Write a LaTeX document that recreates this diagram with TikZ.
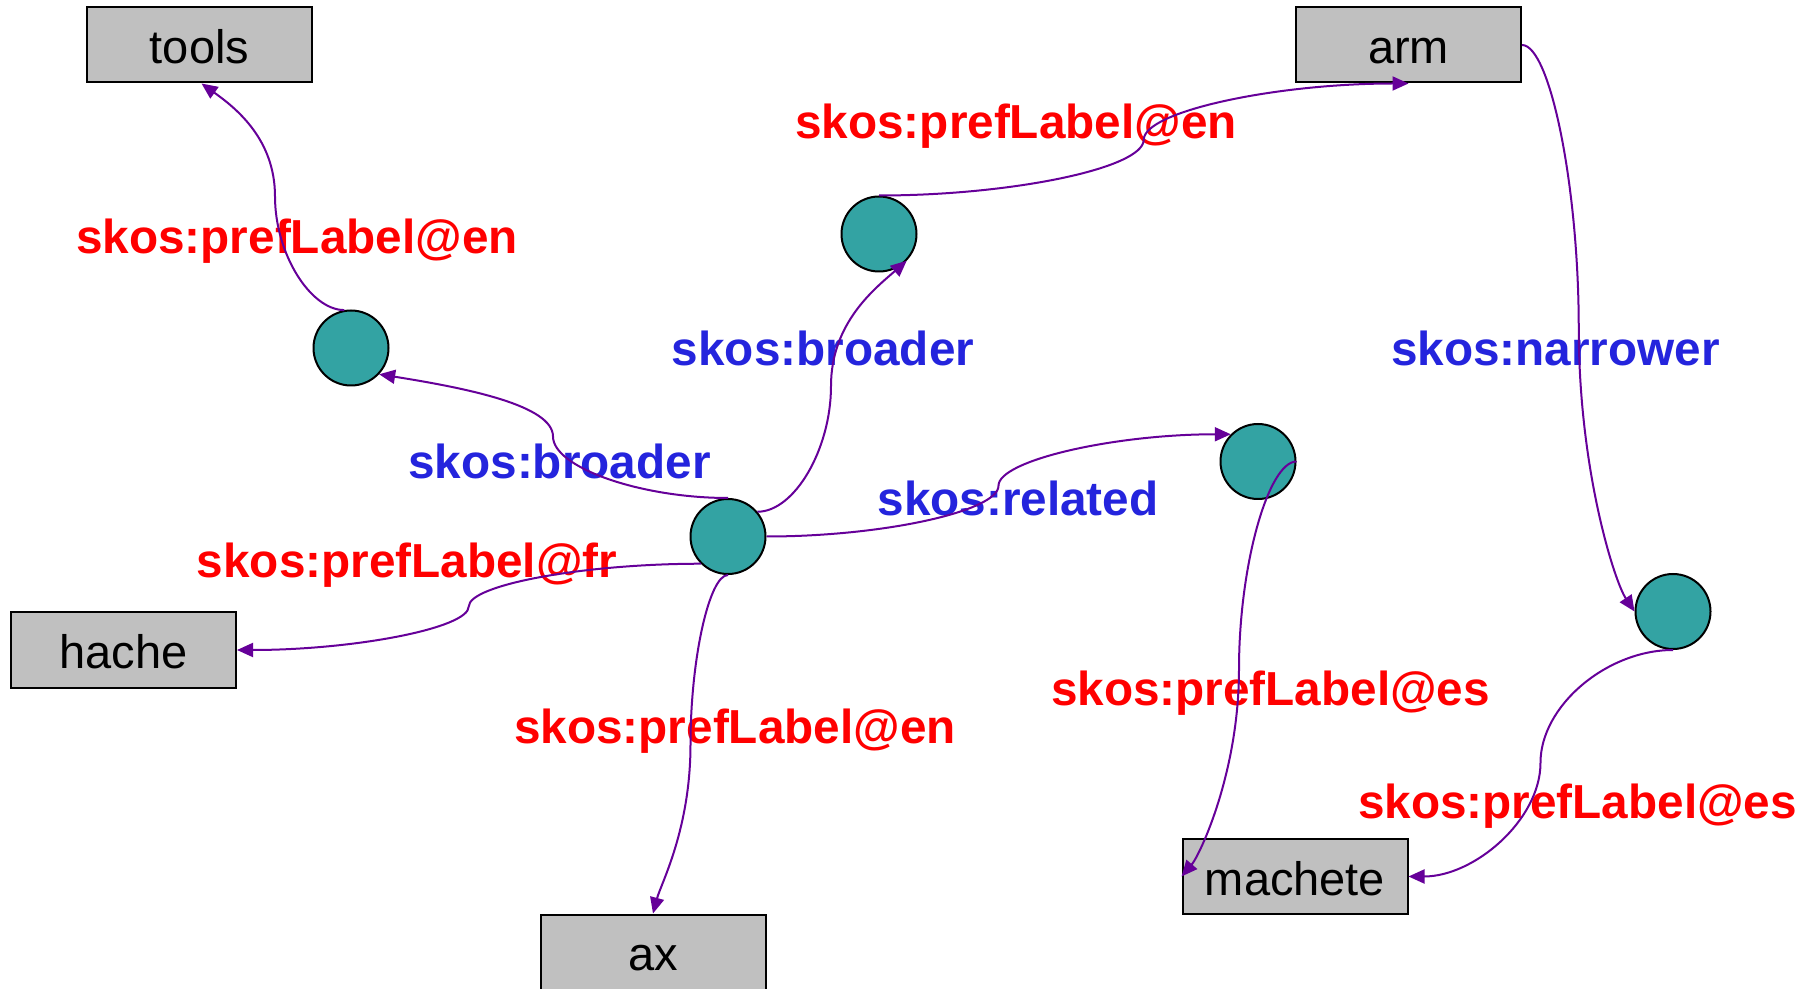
\documentclass[tikz,border=0pt]{standalone}
\usepackage{fontspec}
\setmainfont{Liberation Sans}
\usetikzlibrary{arrows.meta}
\definecolor{boxgray}{HTML}{C0C0C0}
\definecolor{conceptteal}{HTML}{33A3A3}
\definecolor{edgepurple}{HTML}{660099}
\definecolor{labred}{HTML}{FF0000}
\definecolor{labblue}{HTML}{2424DD}
\begin{document}
\begin{tikzpicture}[x=0.5pt,y=-0.5pt,
  term/.style={draw=black, line width=1pt, fill=boxgray, minimum width=112.5pt,
    minimum height=37.5pt, inner sep=0pt, font=\fontsize{23.5}{28}\selectfont,
    text height=18.5pt, text depth=0pt},
  concept/.style={circle, draw=black, line width=1pt, fill=conceptteal,
    minimum size=37.5pt, inner sep=0pt},
  rellabel/.style={font=\bfseries\fontsize{23.85}{28}\selectfont, anchor=base, inner sep=0pt},
  redlab/.style={rellabel, text=labred},
  bluelab/.style={rellabel, text=labblue},
  edge/.style={draw=edgepurple, line width=1pt, -{Triangle[length=8pt,width=7pt]}}]
\useasboundingbox (0,0) rectangle (1806,989);
\fill[white] (0,0) rectangle (1806,989);
\clip (0,0) rectangle (1806,989);

% literal nodes
\node[term] (tools) at (199.5,45) {tools};
\node[term] (arm) at (1408.5,45) {arm};
\node[term] (hache) at (123.5,650) {hache};
\node[term] (ax) at (653,952) {ax};
\node[term] (machete) at (1295,876.5) {machete};

% concept nodes
\node[concept] (cL) at (351,348) {};
\node[concept] (cT) at (879,234) {};
\node[concept] (cC) at (728,536.5) {};
\node[concept] (cR) at (1258,461.5) {};
\node[concept] (cN) at (1673,611.5) {};

% labels
\node[redlab] (l1) at (297,254) {skos:prefLabel@en};
\node[redlab] (l2) at (1016,139) {skos:prefLabel@en};
\node[bluelab] (l3) at (823,366) {skos:broader};
\node[bluelab] (l4) at (1555.5,366) {skos:narrower};
\node[bluelab] (l5) at (559.5,479) {skos:broader};
\node[bluelab] (l6) at (1018,516) {skos:related};
\node[redlab] (l7) at (407,578) {skos:prefLabel@fr};
\node[redlab] (l8) at (735,743) {skos:prefLabel@en};
\node[redlab] (l9) at (1270.5,705) {skos:prefLabel@es};
\node[redlab] (l10) at (1577.5,818) {skos:prefLabel@es};

% connector midpoints
\coordinate (m1) at (275,196.5);
\coordinate (m2) at (553,436.5);
\coordinate (m3) at (831,386);
\coordinate (m4) at (1143.75,139.75);
\coordinate (m5) at (1578.75,328.25);
\coordinate (m6) at (1540.5,762.75);
\coordinate (m7) at (1239,669);
\coordinate (m8) at (998.5,485.75);
\coordinate (m9) at (468.75,606.5);
\coordinate (m10) at (690.5,744.25);

% connectors
\draw[edge] (cL.100) .. controls +(-34,0) and +(0,57) .. (m1)
  .. controls +(0,-57) and +(35,25) .. ([xshift=1pt]tools.south);
\draw[edge] (cC.north) .. controls +(-87.5,0) and +(0,31) .. (m2)
  .. controls +(0,-31) and +(88,14) .. (cL.-43);
\draw[edge] (cC.40) .. controls +(37,0) and +(0,63) .. (m3)
  .. controls +(0,-63) and +(-32,28) .. (cT.-44);
\draw[edge] (cT.north) .. controls +(132,0) and +(0,28.5) .. (m4)
  .. controls +(0,-28.5) and +(-132,0) .. (arm.south);
\draw[edge] (arm.east) .. controls +(28,0) and +(0,-141.6) .. (m5)
  .. controls +(0,141.6) and +(-20,-30) .. (cN.west);
\draw[edge] (cN.south) .. controls +(-66,0) and +(0,-57) .. (m6)
  .. controls +(0,57) and +(66,0) .. (machete.east);
\draw[edge] (cR.east) .. controls +(-28,0) and +(0,-104) .. (m7)
  .. controls +(0,104) and +(18,-21) .. (machete.west);
\draw[edge] (cC.east) .. controls +(116.5,0) and +(0,25.4) .. (m8)
  .. controls +(0,-25.4) and +(-116.5,0) .. (cR.135);
\draw[edge] (cC.225) .. controls +(-116.4,0) and +(0,-21.75) .. (m9)
  .. controls +(0,21.75) and +(116.4,0) .. (hache.east);
\draw[edge] (cC.south) .. controls +(-18.75,0) and +(0,-85) .. (m10)
  .. controls +(0,85) and +(8,-30) .. (ax.north);
\end{tikzpicture}
\end{document}
